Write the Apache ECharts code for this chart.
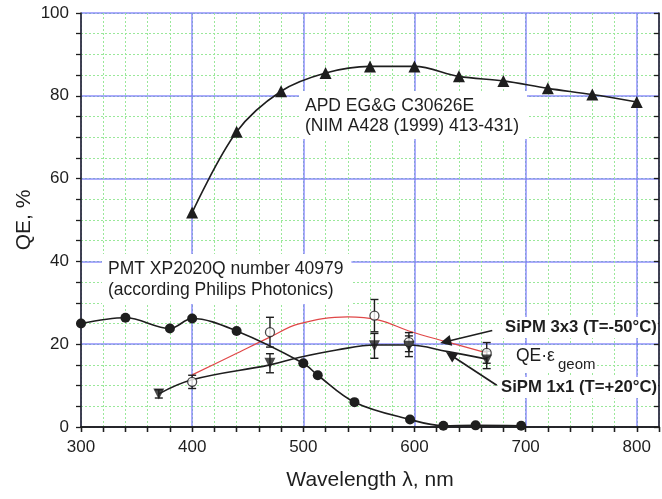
<!DOCTYPE html>
<html>
<head>
<meta charset="utf-8">
<script src="https://cdn.jsdelivr.net/npm/echarts@6/dist/echarts.min.js"></script>
<style>
  html, body { margin: 0; padding: 0; background: #fff; }
  #chart { width: 662px; height: 499px; }
</style>
</head>
<body>
<div id="chart"></div>
<script>
// APD EG&G C30626E quantum efficiency
const apdWl = [400, 440, 480, 520, 560, 600, 640, 680, 720, 760, 800];
const apdQe = [51.8, 71.3, 81.1, 85.5, 87.1, 87.1, 84.7, 83.6, 81.8, 80.3, 78.5];

// PMT XP2020Q (Philips Photonics)
const pmtWl = [300, 340, 380, 400, 440, 500, 513, 546, 596, 626, 655, 696];
const pmtQe = [25.0, 26.4, 23.8, 26.2, 23.2, 15.4, 12.5, 6.0, 1.8, 0.3, 0.4, 0.3];

// SiPM 3x3 (T=-50°C): measured points with errors, and smooth fit
const sipm3Wl = [400, 470, 564, 595, 665];
const sipm3Qe = [10.9, 22.9, 26.9, 20.5, 17.9];
const sipm3Err = [1.6, 3.6, 3.9, 2.3, 2.5];
const fit3Wl = [400, 437, 470, 496, 540, 568, 595, 630, 665];
const fit3Qe = [12.6, 17.4, 21.7, 24.9, 26.6, 25.8, 23.2, 20.5, 17.9];

// SiPM 1x1 (T=+20°C): measured points with errors, and smooth fit
const sipm1Wl = [370, 470, 564, 595, 665];
const sipm1Qe = [8.0, 15.4, 19.6, 19.5, 16.2];
const sipm1Err = [1.0, 2.3, 3.0, 2.5, 2.1];
const fit1Wl = [370, 400, 470, 496, 530, 565, 595, 630, 665];
const fit1Qe = [8.0, 11.4, 15.0, 16.8, 18.6, 19.8, 19.8, 18.2, 16.4];

// tick labels
const xTickLabels = [300, 400, 500, 600, 700, 800];
const yTickLabels = [0, 20, 40, 60, 80, 100];

// arrow pointers from the SiPM labels to their curves: [tail, tip]
const arrow3 = [[670, 23.3], [628, 20.6]];
const arrow1 = [[674, 10.1], [632.5, 17.4]];

const FONT = '"Liberation Sans", Arial, sans-serif';
const INK = '#1e1e1e';
const BLUE = 'rgba(115,115,250,0.8)';
const GREEN = '#9ae89a';

const pairs = (xs, ys) => xs.map((x, i) => [x, ys[i]]);
const errRows = (xs, ys, es) => xs.map((x, i) => [x, ys[i] - es[i], ys[i] + es[i]]);

function errorBar(params, api) {
  const x = api.value(0);
  const lo = api.coord([x, api.value(1)]);
  const hi = api.coord([x, api.value(2)]);
  const w = 4;
  const st = { stroke: INK, lineWidth: 1.4 };
  return {
    type: 'group',
    children: [
      { type: 'line', shape: { x1: lo[0], y1: lo[1], x2: hi[0], y2: hi[1] }, style: st },
      { type: 'line', shape: { x1: lo[0] - w, y1: lo[1], x2: lo[0] + w, y2: lo[1] }, style: st },
      { type: 'line', shape: { x1: hi[0] - w, y1: hi[1], x2: hi[0] + w, y2: hi[1] }, style: st }
    ]
  };
}

const chart = echarts.init(document.getElementById('chart'), null, { renderer: 'canvas' });

const axisLabelStyle = { color: INK, fontSize: 17, fontFamily: FONT };

chart.setOption({
  animation: false,
  backgroundColor: '#fff',
  grid: { left: 81, top: 13, width: 580, height: 414, containLabel: false },
  xAxis: [
    {
      type: 'value', position: 'bottom', min: 300, max: 820, interval: 20,
      name: 'Wavelength λ, nm', nameLocation: 'middle', nameGap: 43, nameMoveOverlap: false,
      nameTextStyle: { color: INK, fontSize: 21, fontFamily: FONT },
      axisLine: { show: true, lineStyle: { color: INK, width: 1.5 } },
      axisTick: { show: true, inside: false, length: 5, lineStyle: { color: INK, width: 1.3 } },
      axisLabel: Object.assign({ margin: 12, showMinLabel: true, showMaxLabel: true,
        formatter: v => (xTickLabels.includes(v) ? String(v) : '') }, axisLabelStyle),
      splitLine: { show: true, lineStyle: { color: GREEN, width: 1, type: [2, 2] } }
    },
    {
      type: 'value', position: 'top', min: 300, max: 820, interval: 20,
      axisLine: { show: true, lineStyle: { color: INK, width: 1.5 } },
      axisTick: { show: true, inside: true, length: 5, lineStyle: { color: INK, width: 1.3 } },
      axisLabel: { show: false },
      splitLine: { show: false }
    },
    {
      type: 'value', position: 'bottom', min: 300, max: 820, interval: 100,
      axisLine: { show: false }, axisTick: { show: false }, axisLabel: { show: false },
      splitLine: { show: true, lineStyle: { color: BLUE, width: 1.5 } }
    }
  ],
  yAxis: [
    {
      type: 'value', position: 'left', min: 0, max: 100, interval: 5,
      name: 'QE, %', nameLocation: 'middle', nameGap: 46, nameRotate: 90, nameMoveOverlap: false,
      nameTextStyle: { color: INK, fontSize: 21, fontFamily: FONT },
      axisLine: { show: true, lineStyle: { color: INK, width: 1.5 } },
      axisTick: { show: true, inside: false, length: 5, lineStyle: { color: INK, width: 1.3 } },
      axisLabel: Object.assign({ margin: 12, showMinLabel: true, showMaxLabel: true,
        formatter: v => (yTickLabels.includes(v) ? String(v) : '') }, axisLabelStyle),
      splitLine: { show: true, lineStyle: { color: GREEN, width: 1, type: [2, 2] } }
    },
    {
      type: 'value', position: 'right', min: 0, max: 100, interval: 5,
      axisLine: { show: true, lineStyle: { color: INK, width: 1.5 } },
      axisTick: { show: true, inside: true, length: 5, lineStyle: { color: INK, width: 1.3 } },
      axisLabel: { show: false },
      splitLine: { show: false }
    },
    {
      type: 'value', position: 'left', min: 0, max: 100, interval: 20,
      axisLine: { show: false }, axisTick: { show: false }, axisLabel: { show: false },
      splitLine: { show: true, lineStyle: { color: BLUE, width: 1.5 } }
    }
  ],
  graphic: [
    {
      type: 'text', x: 299, y: 91, z: 1,
      style: {
        text: 'APD EG&G C30626E\n(NIM A428 (1999) 413-431)',
        font: '17.5px ' + FONT, fill: INK, lineHeight: 20,
        backgroundColor: '#fff', padding: [5, 8, 3, 6]
      }
    },
    {
      type: 'text', x: 102, y: 254, z: 1,
      style: {
        text: 'PMT XP2020Q number 40979\n(according Philips Photonics)',
        font: '17.5px ' + FONT, fill: INK, lineHeight: 21,
        backgroundColor: '#fff', padding: [5, 8, 3, 6]
      }
    },
    {
      type: 'text', x: 502, y: 317, z: 1,
      style: {
        text: 'SiPM 3x3 (T=-50°C)', font: 'bold 16.7px ' + FONT, fill: INK,
        backgroundColor: '#fff', padding: [2, 1, 2, 3]
      }
    },
    {
      type: 'text', x: 510, y: 345, z: 1,
      style: {
        text: 'QE·ε', font: '17.5px ' + FONT, fill: INK,
        backgroundColor: '#fff', padding: [2, 42, 8, 6]
      }
    },
    {
      type: 'text', x: 558, y: 357, z: 1,
      style: { text: 'geom', font: '15px ' + FONT, fill: INK }
    },
    {
      type: 'text', x: 498, y: 377, z: 1,
      style: {
        text: 'SiPM 1x1 (T=+20°C)', font: 'bold 16.7px ' + FONT, fill: INK,
        backgroundColor: '#fff', padding: [2, 1, 2, 3]
      }
    }
  ],
  series: [
    {
      name: 'APD', type: 'line', smooth: 0.35, data: pairs(apdWl, apdQe),
      symbol: 'triangle', symbolSize: 12, showSymbol: true,
      lineStyle: { color: INK, width: 1.6 }, itemStyle: { color: INK }, z: 4
    },
    {
      name: 'PMT', type: 'line', smooth: 0.35, data: pairs(pmtWl, pmtQe),
      symbol: 'circle', symbolSize: 10, showSymbol: true,
      lineStyle: { color: INK, width: 1.6 }, itemStyle: { color: INK }, z: 4
    },
    {
      name: 'SiPM 3x3 fit', type: 'line', smooth: 0.4, data: pairs(fit3Wl, fit3Qe),
      showSymbol: false, symbol: 'none',
      lineStyle: { color: '#e04848', width: 1.2 }, z: 3,
      markLine: {
        silent: true, symbol: ['none', 'triangle'], symbolSize: 11,
        label: { show: false },
        itemStyle: { color: INK },
        lineStyle: { color: INK, width: 1.7, type: 'solid' },
        data: [
          [{ coord: arrow3[0] }, { coord: arrow3[1] }],
          [{ coord: arrow1[0] }, { coord: arrow1[1] }]
        ]
      }
    },
    {
      name: 'SiPM 1x1 fit', type: 'line', smooth: 0.4, data: pairs(fit1Wl, fit1Qe),
      showSymbol: false, symbol: 'none',
      lineStyle: { color: INK, width: 1.6 }, z: 3
    },
    {
      name: 'SiPM 3x3 err', type: 'custom', renderItem: errorBar,
      data: errRows(sipm3Wl, sipm3Qe, sipm3Err), z: 5
    },
    {
      name: 'SiPM 1x1 err', type: 'custom', renderItem: errorBar,
      data: errRows(sipm1Wl, sipm1Qe, sipm1Err), z: 5
    },
    {
      name: 'SiPM 3x3', type: 'scatter', data: pairs(sipm3Wl, sipm3Qe),
      symbol: 'circle', symbolSize: 9,
      itemStyle: { color: '#fff', borderColor: INK, borderWidth: 1.3 }, z: 6
    },
    {
      name: 'SiPM 1x1', type: 'scatter', data: pairs(sipm1Wl, sipm1Qe),
      symbol: 'triangle', symbolRotate: 180, symbolSize: 11,
      itemStyle: { color: INK }, z: 6
    }
  ]
});
</script>
</body>
</html>
